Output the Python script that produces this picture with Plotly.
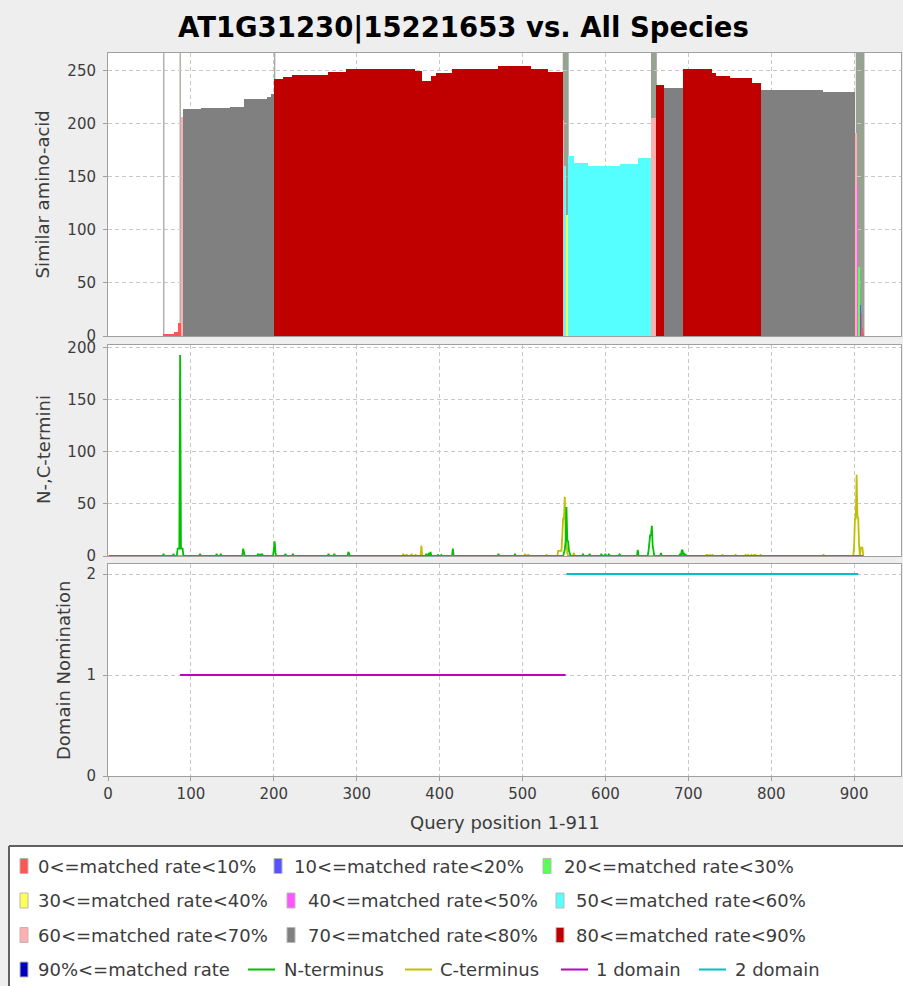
import numpy as np
import plotly.graph_objects as go
from plotly.subplots import make_subplots

W, H = 903, 986

title_text = "AT1G31230|15221653 vs. All Species"
query_length = 911

rate_labels = [
    "0<=matched rate<10%", "10<=matched rate<20%", "20<=matched rate<30%",
    "30<=matched rate<40%", "40<=matched rate<50%", "50<=matched rate<60%",
    "60<=matched rate<70%", "70<=matched rate<80%", "80<=matched rate<90%",
    "90%<=matched rate",
]
rate_colors = ["#FF5555", "#5555FF", "#55FF55", "#FFFF55", "#FF55FF",
               "#55FFFF", "#FFAFAF", "#808080", "#C00000", "#0000C0"]

# Similar amino-acid counts, as runs of constant height along the query
run_start = [67, 80, 85, 88, 91, 113, 148, 165, 192, 197,
             201, 212, 222, 266, 288, 371, 379, 390, 396, 416, 471, 511, 531,
             549, 551, 552, 555, 562, 580, 618, 640,
             656, 662, 671, 694, 729, 734, 751, 777, 788, 863,
             902, 904, 905, 907, 908, 909, 910, 911]
run_end = [79, 84, 87, 90, 112, 147, 164, 191, 196, 200,
           211, 221, 265, 287, 370, 378, 389, 395, 415, 470, 510, 530, 548,
           550, 551, 554, 561, 579, 617, 639, 655,
           661, 670, 693, 728, 733, 750, 776, 787, 862, 901,
           903, 904, 906, 907, 908, 909, 910, 911]
run_height = [1.5, 4, 12, 206, 213.5, 214.5, 216, 223, 225.5, 228,
              242, 244.5, 246, 248.5, 251.5, 250, 240, 245, 247.5, 251.5, 254, 251.5, 249,
              203.5, 160, 114, 169.5, 163, 160, 162.5, 168,
              205, 236.5, 234, 252, 248, 245, 243, 238.5, 231.5, 230,
              191.5, 142, 65, 29, 22, 15, 8, 3]
run_class = [0, 0, 0, 6, 7, 7, 7, 7, 7, 7,
             8, 8, 8, 8, 8, 8, 8, 8, 8, 8, 8, 8, 8,
             6, 5, 3, 5, 5, 5, 5, 5,
             6, 8, 7, 8, 8, 8, 8, 8, 7, 7,
             6, 4, 2, 1, 0, 0, 0, 0]

# Alignment boundary markers drawn across the top panel
boundary_start = [66.6, 86.4, 200.4, 548.5, 655.0, 902.0]
boundary_end = [68.0, 87.8, 201.8, 555.7, 662.0, 912.5]

# N- and C-terminus counts (positions not listed are zero)
n_terminus = [(67, 2), (79, 2), (84, 7), (85, 7), (86, 7), (87, 193), (88, 7), (89, 7),
              (90, 7), (111, 2), (131, 2), (136, 2), (163, 7), (164, 4), (181, 2),
              (184, 2), (186, 2), (200, 6), (201, 14), (202, 3), (214, 2), (223, 2),
              (266, 2), (273, 2), (290, 4), (291, 2), (384, 2), (387, 3), (389, 4),
              (398, 1), (402, 1), (416, 7), (471, 2), (491, 2), (550, 3), (551, 6),
              (552, 14), (553, 47), (554, 15), (555, 14), (556, 5), (557, 3), (573, 2),
              (581, 2), (595, 1.5), (600, 2), (604, 1.5), (617, 1.5), (639, 6),
              (652, 5), (653, 13), (654, 20), (655, 20), (656, 29), (657, 10), (658, 4),
              (667, 3), (690, 2), (692, 5), (693, 6), (695, 3), (697, 1)]
c_terminus = [(356, 1.5), (360, 1.5), (366, 1.5), (371, 1), (378, 10), (503, 1.5),
              (507, 1.5), (529, 1), (543, 5), (544, 5), (545, 5), (546, 5), (547, 5),
              (548, 20), (549, 36), (550, 36), (551, 57), (552, 20), (553, 5), (554, 3),
              (562, 3), (722, 1), (723, 1), (726, 1), (729, 1), (741, 1), (757, 1),
              (769, 1), (772, 1), (776, 1), (779, 1), (781, 1), (787, 1), (863, 1),
              (900, 10), (901, 36), (902, 36), (903, 78), (904, 38), (905, 36),
              (906, 10), (908, 8), (909, 8), (910, 8)]

# Domain nomination segments
domain_start = [87, 553]
domain_end = [552, 905]
domain_level = [1, 2]
domain_names = ["1 domain", "2 domain"]
domain_colors = ["#C000C0", "#00C0C0"]

terminus_names = ["N-terminus", "C-terminus"]
terminus_colors = ["#00C000", "#C0C000"]

FONT = "DejaVu Sans"
TEXT_GREY = "#3C3C3C"


def fx(px):
    return px / W


def fy(py):
    return 1 - py / H


fig = make_subplots(rows=3, cols=1, shared_xaxes=True)

# --- top panel: similarity bars coloured by matched-rate class
starts = np.array(run_start)
ends = np.array(run_end)
heights = np.array(run_height)
classes = np.array(run_class)
for k, (label, color) in enumerate(zip(rate_labels, rate_colors)):
    sel = classes == k
    if not sel.any():
        continue
    fig.add_trace(go.Bar(
        x=(starts[sel] + ends[sel]) / 2.0,
        y=heights[sel],
        width=(ends[sel] - starts[sel] + 1).astype(float),
        marker=dict(color=color, line=dict(width=0)),
        name=label, showlegend=False, hoverinfo="skip",
    ), row=1, col=1)

shapes = []
for b0, b1 in zip(boundary_start, boundary_end):
    shapes.append(dict(type="rect", xref="x", yref="y domain", x0=b0, x1=b1, y0=0, y1=1,
                       fillcolor="rgb(152,162,146)", line=dict(width=0), layer="below"))

# --- middle panel: N/C termini profiles
positions = np.arange(1, query_length + 1)
for name, color, peaks in [("C-terminus", terminus_colors[1], c_terminus),
                           ("N-terminus", terminus_colors[0], n_terminus)]:
    values = np.zeros(query_length)
    for p, v in peaks:
        values[p - 1] = v
    fig.add_trace(go.Scatter(x=positions, y=values, mode="lines",
                             line=dict(color=color, width=1.8),
                             name=name, showlegend=False, hoverinfo="skip"),
                  row=2, col=1)

# --- bottom panel: domain nomination
for s, e, lvl, name, color in zip(domain_start, domain_end, domain_level,
                                  domain_names, domain_colors):
    fig.add_trace(go.Scatter(x=[s, e], y=[lvl, lvl], mode="lines",
                             line=dict(color=color, width=2),
                             name=name, showlegend=False, hoverinfo="skip"),
                  row=3, col=1)

x_max = query_length * 1.05
top_max = max(run_height) * 1.05
mid_max = max(v for _, v in n_terminus + c_terminus) * 1.05
bot_max = max(domain_level) * 1.05

tickfont = dict(family=FONT, size=15, color=TEXT_GREY)
axis_common = dict(showgrid=True, gridcolor="#C8C8C8", griddash="4px,3px", gridwidth=1,
                   showline=True, linecolor="#A0A0A0", linewidth=1, mirror=True,
                   zeroline=False, tickfont=tickfont, automargin=False)

x_dom = [fx(108), fx(901)]
for i, name in enumerate(["xaxis", "xaxis2", "xaxis3"]):
    last = i == 2
    fig.layout[name].update(domain=x_dom, range=[0, x_max], tick0=0, dtick=100,
                            showticklabels=last, ticks="outside" if last else "",
                            ticklen=4, tickcolor="#A0A0A0", **axis_common)

y_common = dict(ticks="outside", ticklen=4, tickcolor="#A0A0A0", ticklabelstandoff=4,
                tick0=0, **axis_common)
fig.layout.yaxis.update(domain=[fy(336), fy(53)], range=[0, top_max], dtick=50, **y_common)
fig.layout.yaxis2.update(domain=[fy(556), fy(345)], range=[0, mid_max], dtick=50, **y_common)
fig.layout.yaxis3.update(domain=[fy(776), fy(564)], range=[0, bot_max], dtick=1, **y_common)

annotations = []

# chart title
annotations.append(dict(text=title_text, x=fx(463), y=fy(27), xref="paper", yref="paper",
                        xanchor="center", yanchor="middle", showarrow=False,
                        font=dict(family=FONT, size=27.5, color="black", weight="bold")))

# axis titles
axis_titles = [("Similar amino-acid", 42, 194.5), ("N-,C-termini", 43, 450),
               ("Domain Nomination", 63, 670)]
for text, px, py in axis_titles:
    annotations.append(dict(text=text, x=fx(px), y=fy(py), xref="paper", yref="paper",
                            xanchor="center", yanchor="middle", textangle=-90,
                            showarrow=False, font=dict(family=FONT, size=18, color=TEXT_GREY)))
annotations.append(dict(text=f"Query position 1-{query_length}", x=fx(504.5), y=fy(822),
                        xref="paper", yref="paper", xanchor="center", yanchor="middle",
                        showarrow=False, font=dict(family=FONT, size=18, color=TEXT_GREY)))

# legend box: white panel with a border along its top and left edges
shapes.append(dict(type="rect", xref="paper", yref="paper", x0=fx(9), x1=1,
                   y0=0, y1=fy(846), fillcolor="white", line=dict(width=0), layer="above"))
shapes.append(dict(type="line", xref="paper", yref="paper", x0=fx(9), x1=1,
                   y0=fy(846), y1=fy(846), line=dict(color="#606060", width=2),
                   layer="above"))
shapes.append(dict(type="line", xref="paper", yref="paper", x0=fx(9), x1=fx(9),
                   y0=0, y1=fy(846), line=dict(color="#606060", width=2), layer="above"))

row_y = [866, 900.5, 935, 969.5]
# (kind, index, row, symbol x, text x)
legend_layout = [
    ("box", 0, 0, 20, 36), ("box", 1, 0, 274, 292), ("box", 2, 0, 543, 562),
    ("box", 3, 1, 20, 36), ("box", 4, 1, 287, 306), ("box", 5, 1, 556, 574),
    ("box", 6, 2, 20, 36), ("box", 7, 2, 287, 306), ("box", 8, 2, 556, 574),
    ("box", 9, 3, 20, 36),
    ("line", 0, 3, 248, 282), ("line", 1, 3, 405, 438),
    ("dline", 0, 3, 561, 594), ("dline", 1, 3, 699, 733),
]
for kind, idx, row, sx, tx in legend_layout:
    cy = row_y[row]
    if kind == "box":
        label, color = rate_labels[idx], rate_colors[idx]
        shapes.append(dict(type="rect", xref="paper", yref="paper",
                           x0=fx(sx), x1=fx(sx + 8), y0=fy(cy + 7.5), y1=fy(cy - 7.5),
                           fillcolor=color, line=dict(color="#B8B8B8", width=1),
                           layer="above"))
    else:
        if kind == "line":
            label, color = terminus_names[idx], terminus_colors[idx]
        else:
            label, color = domain_names[idx], domain_colors[idx]
        shapes.append(dict(type="line", xref="paper", yref="paper",
                           x0=fx(sx), x1=fx(sx + 27), y0=fy(cy), y1=fy(cy),
                           line=dict(color=color, width=2), layer="above"))
    annotations.append(dict(text=label, x=fx(tx), y=fy(cy), xref="paper", yref="paper",
                            xanchor="left", yanchor="middle", showarrow=False,
                            font=dict(family=FONT, size=18, color=TEXT_GREY)))

fig.update_layout(
    width=W, height=H, margin=dict(l=0, r=0, t=0, b=0, pad=0, autoexpand=False),
    paper_bgcolor="#EEEEEE", plot_bgcolor="white",
    barmode="overlay", bargap=0, showlegend=False,
    annotations=annotations, shapes=shapes,
    font=dict(family=FONT, color=TEXT_GREY),
)

fig.write_html("out.html")
